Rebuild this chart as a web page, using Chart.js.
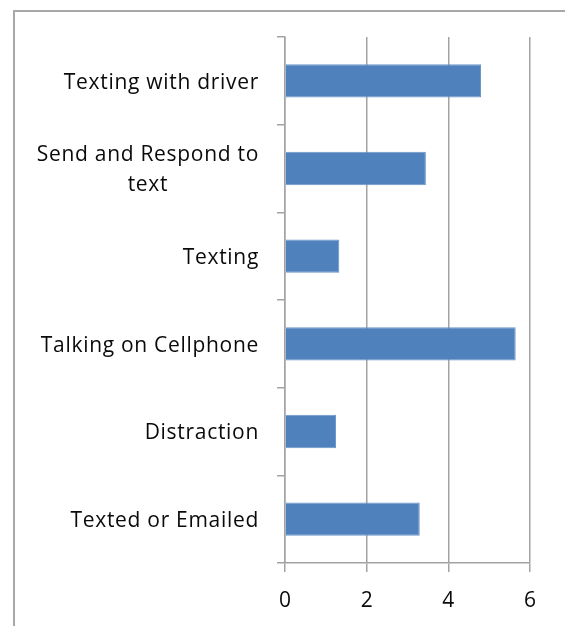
<!DOCTYPE html>
<html>
<head>
<meta charset="utf-8">
<script src="https://cdn.jsdelivr.net/npm/chart.js@4.4.0/dist/chart.umd.min.js"></script>
<style>
html,body{margin:0;padding:0;background:#fff;overflow:hidden;width:565px;height:626px}
#frame{position:absolute;left:13px;top:10px;width:700px;height:800px;border-top:2px solid #a8a8a8;border-left:2px solid #a8a8a8;}
#wrap{position:absolute;left:0;top:0;width:565px;height:626px}
</style>
</head>
<body>
<div id="frame"></div>
<div id="wrap"><canvas id="c" width="565" height="626"></canvas></div>
<script>
const categories = [
  ["Texting with driver"],
  ["Send and Respond to", "text"],
  ["Texting"],
  ["Talking on Cellphone"],
  ["Distraction"],
  ["Texted or Emailed"]
];
const values = [4.8, 3.45, 1.33, 5.65, 1.25, 3.3];
const xTickValues = [0, 2, 4, 6];

const FONT = "'Open Sans', Lato, sans-serif";
const FONT_SIZE = 21;
const GRID = '#a3a3a3';

const labelPlugin = {
  id: 'catLabels',
  afterDraw(chart) {
    const ctx = chart.ctx;
    const scale = chart.scales.y;
    ctx.save();
    ctx.font = FONT_SIZE + 'px ' + FONT;
    try { ctx.letterSpacing = '0.7px'; } catch (e) {}
    ctx.fillStyle = '#0a0a0a';
    ctx.textBaseline = 'middle';
    ctx.textAlign = 'center';
    const rightEdge = 259;
    const lineH = 30;
    categories.forEach((lines, i) => {
      const yc = scale.getPixelForValue(i) + 2;
      const w = Math.max(...lines.map(l => ctx.measureText(l).width));
      const cx = rightEdge - w / 2;
      const y0 = yc - (lines.length - 1) * lineH / 2;
      lines.forEach((l, j) => ctx.fillText(l, cx, y0 + j * lineH));
    });
    ctx.restore();
  }
};

new Chart(document.getElementById('c'), {
  type: 'bar',
  data: {
    labels: categories.map(c => c.join(' ')),
    datasets: [{
      data: values,
      backgroundColor: '#4f81bd',
      borderColor: '#6a95c9',
      borderWidth: 1,
      categoryPercentage: 1,
      barPercentage: 0.38
    }]
  },
  options: {
    indexAxis: 'y',
    responsive: false,
    animation: false,
    layout: { padding: { top: 37, right: 35, bottom: 0, left: 0 } },
    plugins: { legend: { display: false }, tooltip: { enabled: false } },
    scales: {
      x: {
        min: 0, max: 6,
        afterBuildTicks(scale) { scale.ticks = xTickValues.map(v => ({ value: v })); },
        afterFit(scale) { scale.height = 63; },
        grid: { color: GRID, lineWidth: 1.5, tickLength: 9, drawTicks: true },
        border: { color: GRID, width: 1.5 },
        ticks: { color: '#0a0a0a', font: { family: FONT, size: FONT_SIZE }, padding: 16 }
      },
      y: {
        afterFit(scale) { scale.width = 285; },
        grid: { display: true, drawOnChartArea: false, drawTicks: true, tickLength: 8, color: GRID, lineWidth: 1.5, offset: true },
        border: { color: GRID, width: 1.5 },
        ticks: { display: false }
      }
    }
  },
  plugins: [labelPlugin]
});
</script>
</body>
</html>
